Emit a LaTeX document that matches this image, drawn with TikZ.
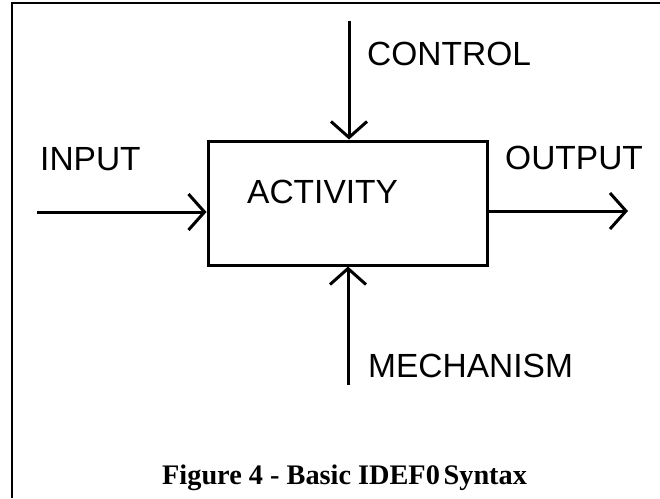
\documentclass[tikz,border=0pt]{standalone}
\usepackage{fontspec}
\setmainfont{Liberation Serif}
\newfontfamily\labelfont{Liberation Sans}
\usetikzlibrary{arrows.meta}
\begin{document}
\begin{tikzpicture}[x=1pt,y=-1pt,
  frameline/.style={line width=2pt},
  actbox/.style={draw,line width=3pt,rectangle,minimum width=279pt,minimum height=124pt,inner sep=0pt},
  flow/.style={line width=3pt,-{Straight Barb[length=16pt,width=36pt]}},
  tag/.style={anchor=base west,inner sep=0pt,font=\labelfont\fontsize{33.5}{40}\selectfont},
  caption/.style={anchor=base west,inner sep=0pt,font=\bfseries\fontsize{28.3}{34}\selectfont}]
  \useasboundingbox (0,0) rectangle (660,498);
  % page frame, only its left and top edges fall inside the picture
  \draw[frameline] (12,498) -- (12,3) -- (660,3);

  % the activity box
  \node[actbox] (act) at (347.5,203) {};
  \node[tag] (acttxt) at (247,203) {ACTIVITY};

  % free ends of the four arrows
  \coordinate (inA) at (37,212);
  \coordinate (outB) at (628,211);
  \coordinate (ctlA) at (349,21);
  \coordinate (mechA) at (348,385);

  \draw[flow] (inA) -- (inA -| act.west);
  \draw[flow] (outB -| act.east) -- (outB);
  \draw[flow] (ctlA) -- (ctlA |- act.north);
  \draw[flow] (mechA) -- (mechA |- act.south);

  % arrow labels
  \node[tag] (intxt) at (40,170) {INPUT};
  \node[tag] (outtxt) at (505,169) {OUTPUT};
  \node[tag] (ctltxt) at (367,65) {CONTROL};
  \node[tag] (mechtxt) at (368,377) {MECHANISM};

  \node[caption] (cap) at (162,484) {Figure 4 - Basic IDEF0\hspace{-0.12em} Syntax};
\end{tikzpicture}
\end{document}
